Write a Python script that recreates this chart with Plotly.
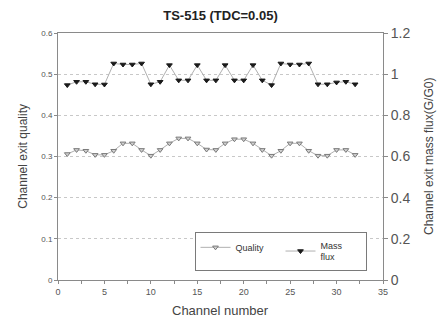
import plotly.graph_objects as go

# Channel index and exit conditions for the TS-515 case (TDC = 0.05)
channels = list(range(1, 33))
quality = [0.306, 0.316, 0.314, 0.304, 0.304, 0.314, 0.332, 0.332, 0.316, 0.302,
           0.316, 0.332, 0.344, 0.344, 0.332, 0.317, 0.316, 0.332, 0.342, 0.342,
           0.332, 0.316, 0.302, 0.314, 0.332, 0.332, 0.314, 0.302, 0.302, 0.316,
           0.316, 0.304]
mass_flux = [0.947, 0.963, 0.963, 0.951, 0.950, 1.052, 1.047, 1.047, 1.052, 0.951,
             0.963, 1.044, 0.970, 0.970, 1.044, 0.970, 0.970, 1.044, 0.970, 0.970,
             1.044, 0.970, 0.947, 1.052, 1.047, 1.047, 1.052, 0.951, 0.951, 0.960,
             0.963, 0.951]

x_ticks = [0, 5, 10, 15, 20, 25, 30, 35]
q_ticks = [0, 0.1, 0.2, 0.3, 0.4, 0.5, 0.6]
q_labels = ["0", "0.1", "0.2", "0.3", "0.4", "0.5", "0.6"]
g_ticks = [0, 0.2, 0.4, 0.6, 0.8, 1.0, 1.2]
g_labels = ["0", "0.2", "0.4", "0.6", "0.8", "1", "1.2"]

FONT = "Liberation Sans, Arial, sans-serif"
AXIS = "#8a8a8a"
TITLE_COLOR = "#444444"

fig = go.Figure()
fig.add_trace(go.Scatter(
    x=channels, y=quality, name="Quality", mode="lines+markers",
    line=dict(color="#b0b0b0", width=1),
    marker=dict(symbol="triangle-down", size=5, color="#d0d0d0",
                line=dict(color="#7a7a7a", width=1)),
    yaxis="y"))
fig.add_trace(go.Scatter(
    x=channels, y=mass_flux, name="Mass<br>flux", mode="lines+markers",
    line=dict(color="#b0b0b0", width=1),
    marker=dict(symbol="triangle-down", size=5, color="#1a1a1a",
                line=dict(color="#1a1a1a", width=1)),
    yaxis="y2"))

fig.update_layout(
    width=441, height=326,
    margin=dict(l=58, r=58, t=33, b=46, autoexpand=False),
    paper_bgcolor="white", plot_bgcolor="white",
    font=dict(family=FONT, color="#333333"),
    title=dict(text="<b>TS-515 (TDC=0.05)</b>", x=0.5, xanchor="center",
               y=0.954, yanchor="middle", yref="container",
               font=dict(size=13, color="#222222")),
    xaxis=dict(range=[0, 35], tickvals=x_ticks, ticks="outside", ticklen=3,
               tickcolor=AXIS, showline=True, linecolor=AXIS, linewidth=1,
               mirror=True, showgrid=False, zeroline=False, automargin=False,
               minor=dict(dtick=2.5, ticks="outside", ticklen=3, tickcolor=AXIS),
               tickfont=dict(size=9, color="#555555")),
    yaxis=dict(range=[0, 0.6], tickvals=q_ticks, ticktext=q_labels,
               ticks="outside", ticklen=3, tickcolor=AXIS, automargin=False,
               showline=True, linecolor=AXIS, linewidth=1, zeroline=False,
               showgrid=True, gridcolor="#c8c8c8", griddash="dot", gridwidth=1,
               tickfont=dict(size=8, color="#555555")),
    yaxis2=dict(range=[0, 1.2], tickvals=g_ticks, ticktext=g_labels,
                overlaying="y", side="right", ticks="outside", ticklen=4,
                tickcolor=AXIS, showline=True, linecolor=AXIS, linewidth=1,
                showgrid=False, zeroline=False, automargin=False,
                tickfont=dict(size=14, color="#555555")),
    legend=dict(orientation="h", x=0.42, y=0.195, xanchor="left", yanchor="top",
                bgcolor="white", bordercolor="#7a7a7a", borderwidth=1,
                font=dict(size=9, color="#333333"),
                entrywidth=40, itemwidth=30, tracegroupgap=0),
    showlegend=True,
)

# Axis titles placed as annotations in pixel-stable paper coordinates
fig.add_annotation(text="Channel number", xref="paper", yref="paper",
                   x=0.5, y=-0.125, xanchor="center", yanchor="middle",
                   showarrow=False, font=dict(size=13, color=TITLE_COLOR))
fig.add_annotation(text="Channel exit quality", xref="paper", yref="paper",
                   x=-0.11, y=0.5, xanchor="center", yanchor="middle", textangle=-90,
                   showarrow=False, font=dict(size=12, color=TITLE_COLOR))
fig.add_annotation(text="Channel exit mass flux(G/G0)", xref="paper", yref="paper",
                   x=1.14, y=0.5, xanchor="center", yanchor="middle", textangle=-90,
                   showarrow=False, font=dict(size=12, color=TITLE_COLOR))

fig.write_html("out.html")
